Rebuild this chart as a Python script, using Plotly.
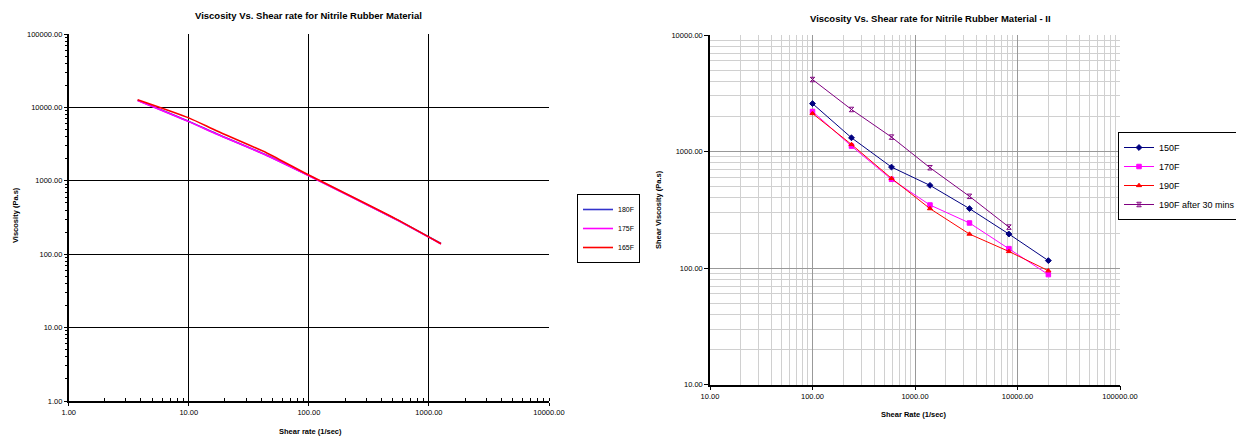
import plotly.graph_objects as go

# ---------------- data: chart 1 ----------------
shear_rate_1 = [3.75, 10, 17, 45, 100, 530, 1260]
visc_180F = [12500, 6450, 4375, 2218, 1180, 300, 140]
visc_175F = [12450, 6400, 4340, 2200, 1175, 298, 138]
visc_165F = [12740, 7200, 4800, 2380, 1197, 303, 139]

# ---------------- data: chart 2 ----------------
shear_rate_2 = [100, 240, 590, 1400, 3400, 8250, 20000]
visc_150F = [2580, 1313, 736, 513, 324, 196, 116]
visc_170F = [2207, 1114, 578, 348, 244, 147, 88]
visc_190F = [2122, 1151, 589, 324, 196, 139, 95]
visc_190F_30 = [4150, 2297, 1331, 727, 413, 225]

OFF = 8  # default page body margin
W, H = 1244 - OFF, 438 - OFF
FONT = "Liberation Sans, Arial, sans-serif"

def px_x(p):
    return (p - OFF) / W

def px_y(p):
    return 1 - (p - OFF) / H

fig = go.Figure()

# chart 1 traces
for name, vals, col in [("180F", visc_180F, "#3333CC"),
                        ("175F", visc_175F, "#FF00FF"),
                        ("165F", visc_165F, "#FF0000")]:
    fig.add_trace(go.Scatter(x=shear_rate_1, y=vals, name=name, mode="lines",
                             line=dict(color=col, width=1.6, shape="spline", smoothing=0.6),
                             xaxis="x", yaxis="y", legend="legend"))

# chart 2 traces
for name, xs, vals, col, sym in [("150F", shear_rate_2, visc_150F, "#000080", "diamond"),
                                 ("170F", shear_rate_2, visc_170F, "#FF00FF", "square"),
                                 ("190F", shear_rate_2, visc_190F, "#FF0000", "triangle-up"),
                                 ("190F after 30 mins", shear_rate_2[:len(visc_190F_30)], visc_190F_30, "#800080", "hourglass-open")]:
    fig.add_trace(go.Scatter(x=xs, y=vals, name=name, mode="lines+markers",
                             line=dict(color=col, width=1),
                             marker=dict(symbol=sym, size=4.5, color=col, line=dict(color=col, width=1)),
                             xaxis="x2", yaxis="y2", legend="legend2"))

tickfont = dict(family=FONT, size=7.5, color="#000000")

fig.update_layout(
    width=W, height=H,
    margin=dict(l=0, r=0, t=0, b=0, autoexpand=False),
    paper_bgcolor="white", plot_bgcolor="white",
    font=dict(family=FONT, color="#000000"),
    xaxis=dict(type="log", range=[0, 4], domain=[px_x(68.7), px_x(549)],
               dtick=1, tickformat=".2f", tickfont=tickfont, automargin=False,
               showgrid=True, gridcolor="#000000", gridwidth=1.2,
               showline=True, linecolor="#000000", linewidth=1.5, mirror=False,
               ticks="outside", ticklen=3, tickcolor="#000000",
               minor=dict(ticks="inside", ticklen=3, tickcolor="#000000", showgrid=False),
               anchor="y", zeroline=False),
    yaxis=dict(type="log", range=[0, 5], domain=[px_y(401), px_y(34)],
               dtick=1, tickformat=".2f", tickfont=tickfont, automargin=False,
               showgrid=True, gridcolor="#000000", gridwidth=1.2,
               showline=True, linecolor="#000000", linewidth=1.5,
               ticks="outside", ticklen=3, tickcolor="#000000",
               minor=dict(ticks="outside", ticklen=2, tickcolor="#000000", showgrid=False),
               anchor="x", zeroline=False),
    xaxis2=dict(type="log", range=[1, 5], domain=[px_x(710), px_x(1120)],
                dtick=1, tickformat=".2f", tickfont=tickfont, automargin=False,
                showgrid=True, gridcolor="#999999", gridwidth=1,
                showline=True, linecolor="#000000", linewidth=1.5,
                ticks="outside", ticklen=4, tickcolor="#000000",
                minor=dict(ticks="", showgrid=True, gridcolor="#D0D0D0", gridwidth=1),
                anchor="y2", zeroline=False),
    yaxis2=dict(type="log", range=[1, 4], domain=[px_y(384.7), px_y(35)],
                dtick=1, tickformat=".2f", tickfont=tickfont, automargin=False,
                showgrid=True, gridcolor="#999999", gridwidth=1,
                showline=True, linecolor="#000000", linewidth=1.5,
                ticks="outside", ticklen=4, tickcolor="#000000",
                minor=dict(ticks="", showgrid=True, gridcolor="#D0D0D0", gridwidth=1),
                anchor="x2", zeroline=False),
    legend=dict(x=px_x(577), y=px_y(194), xanchor="left", yanchor="top",
                bordercolor="#000000", borderwidth=1, bgcolor="white",
                font=dict(family=FONT, size=7), tracegroupgap=0,
                itemwidth=30),
    legend2=dict(x=px_x(1241), y=px_y(132), xanchor="right", yanchor="top",
                 bordercolor="#000000", borderwidth=1, bgcolor="white",
                 font=dict(family=FONT, size=9), itemwidth=30),
    showlegend=True,
)

annos = [
    dict(text="<b>Viscosity Vs. Shear rate for Nitrile Rubber Material</b>", x=px_x(308), y=px_y(16),
         size=9.5),
    dict(text="<b>Viscosity Vs. Shear rate for Nitrile Rubber Material - II</b>", x=px_x(930), y=px_y(18.5),
         size=9.5),
    dict(text="<b>Shear rate (1/sec)</b>", x=px_x(310), y=px_y(431), size=7.5),
    dict(text="<b>Shear Rate (1/sec)</b>", x=px_x(914), y=px_y(414), size=7.5),
]
for a in annos:
    fig.add_annotation(text=a["text"], x=a["x"], y=a["y"], xref="paper", yref="paper",
                       xanchor="center", yanchor="middle", showarrow=False,
                       font=dict(family=FONT, size=a["size"], color="#000000"))

fig.add_annotation(text="<b>Viscosity (Pa.s)</b>", x=px_x(15), y=px_y(215), xref="paper", yref="paper",
                   textangle=-90, showarrow=False, xanchor="center", yanchor="middle",
                   font=dict(family=FONT, size=7.5, color="#000000"))
fig.add_annotation(text="<b>Shear Viscosity (Pa.s)</b>", x=px_x(658), y=px_y(210), xref="paper", yref="paper",
                   textangle=-90, showarrow=False, xanchor="center", yanchor="middle",
                   font=dict(family=FONT, size=7.5, color="#000000"))

fig.write_html("out.html")
